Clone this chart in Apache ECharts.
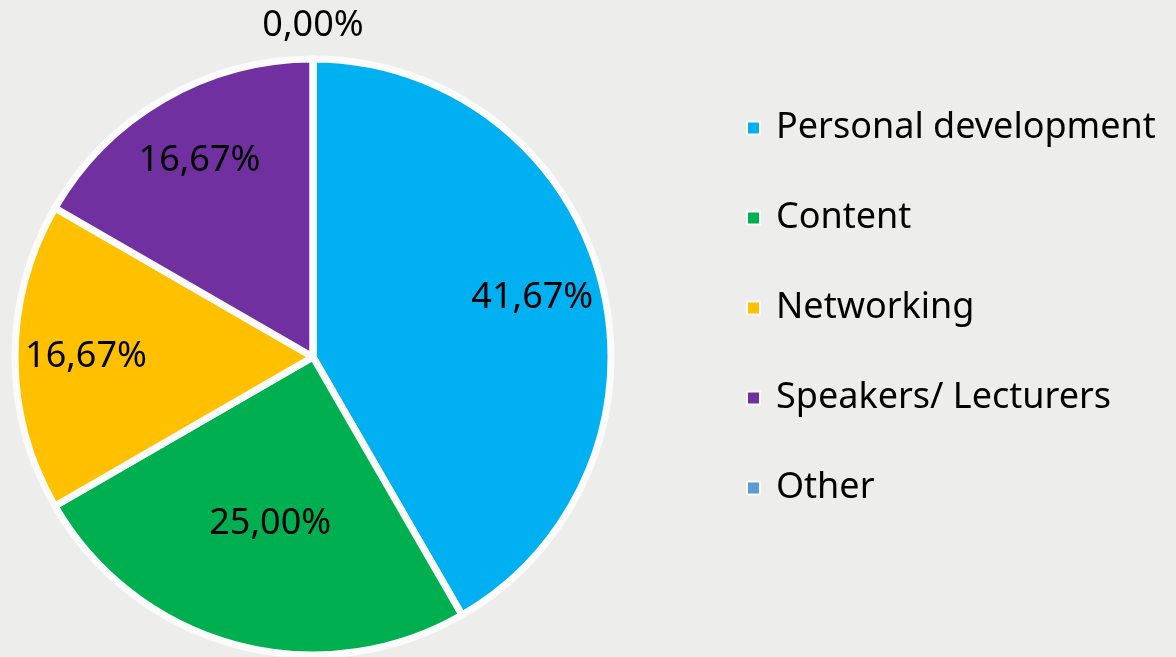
<!DOCTYPE html>
<html>
<head>
<meta charset="utf-8">
<script src="https://cdn.jsdelivr.net/npm/echarts@6/dist/echarts.min.js"></script>
<style>
  html, body { margin: 0; padding: 0; background: #ededeb; }
  #chart { width: 1176px; height: 657px; }
</style>
</head>
<body>
<div id="chart"></div>
<script>
// categories and values (shares of 12 answers)
const categories = ['Personal development', 'Content', 'Networking', 'Speakers/ Lecturers', 'Other']
const counts = [5, 3, 2, 2, 0]
const colors = ['#00B0F0', '#00B050', '#FFC000', '#7030A0', '#5B9BD5']

const chart = echarts.init(document.getElementById('chart'))

const total = counts.reduce((a, b) => a + b, 0)
const fmt = p => (p.value / total * 100).toFixed(2).replace('.', ',') + '%'

const pieData = categories.map((name, i) => ({
  name: name,
  value: counts[i],
  itemStyle: { color: colors[i] }
}))

// label-only ring so the labels sit at about 3/4 of the radius
const labelOffsets = [null, [16, -53], null, null, [0, -104]]
const labelData = categories.map((name, i) => {
  const d = { name: name, value: counts[i] }
  if (labelOffsets[i]) d.label = { offset: labelOffsets[i] }
  return d
})

chart.setOption({
  backgroundColor: '#ededeb',
  animation: false,
  legend: {
    orient: 'vertical',
    left: 741,
    top: 103,
    data: categories,
    icon: 'rect',
    itemWidth: 13,
    itemHeight: 13,
    itemGap: 50,
    textStyle: {
      fontFamily: 'Noto Sans',
      fontSize: 36,
      lineHeight: 40,
      color: '#000',
      padding: [0, 0, 0, 11]
    }
  },
  series: [
    {
      type: 'pie',
      center: [313, 357],
      radius: [0, 298],
      startAngle: 90,
      clockwise: true,
      silent: true,
      data: pieData,
      label: { show: false },
      labelLine: { show: false },
      itemStyle: { borderColor: '#fbfbfb', borderWidth: 7 }
    },
    {
      type: 'pie',
      center: [313, 357],
      radius: [150, 298],
      startAngle: 90,
      clockwise: true,
      silent: true,
      avoidLabelOverlap: false,
      legendHoverLink: false,
      data: labelData,
      itemStyle: { color: 'rgba(0,0,0,0)', borderWidth: 0 },
      label: {
        show: true,
        position: 'inside',
        formatter: fmt,
        fontFamily: 'Noto Sans',
        fontSize: 36,
        color: '#000'
      },
      labelLine: { show: false }
    }
  ]
})
</script>
</body>
</html>
